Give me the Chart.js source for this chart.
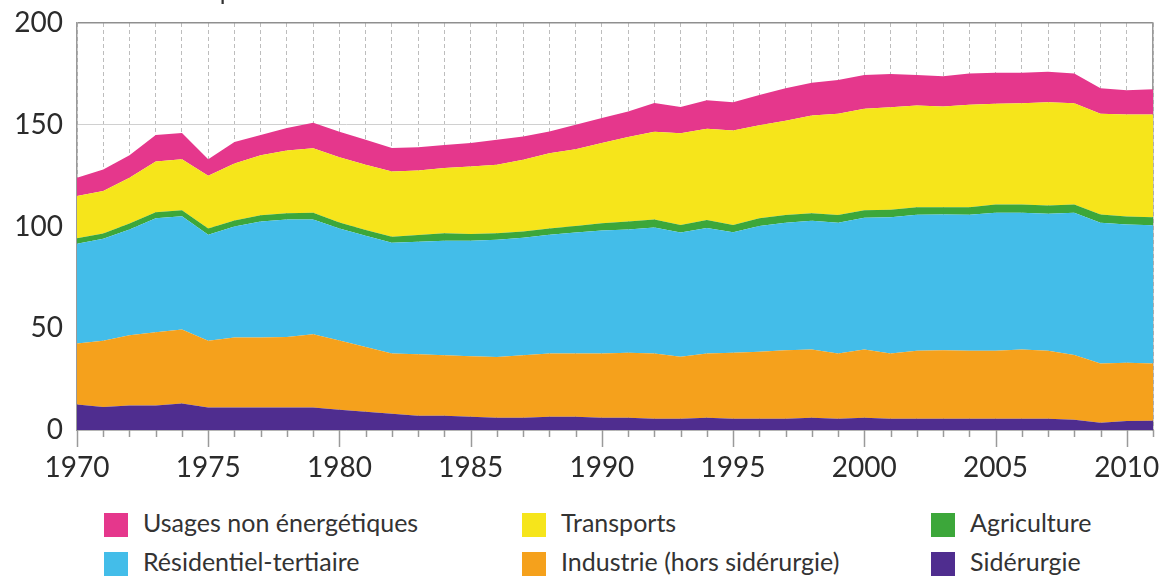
<!DOCTYPE html>
<html>
<head>
<meta charset="utf-8">
<script src="https://cdn.jsdelivr.net/npm/chart.js@4.4.1/dist/chart.umd.min.js"></script>
<style>
body { margin: 0; background: #fff; font-family: Lato, sans-serif; }
#wrap { position: relative; width: 1171px; height: 579px; overflow: hidden; }
#chart { position: absolute; left: 0; top: 0; }
#title { position: absolute; left: 40px; top: -25px; font-size: 25px; color: #333; white-space: nowrap; }
.item { position: absolute; font-size: 25px; color: #333; line-height: 30px; white-space: nowrap; }
.item span { display: inline-block; width: 24px; height: 24px; vertical-align: -5px; margin-right: 15px; }
</style>
</head>
<body>
<div id="wrap">
  <canvas id="chart" width="1171" height="500"></canvas>
  <div id="title">En millions de tep</div>
  <div id="legend"></div>
</div>
<script>
// data (Mtep)
const years = [1970,1971,1972,1973,1974,1975,1976,1977,1978,1979,1980,1981,1982,1983,1984,1985,1986,1987,1988,1989,1990,
               1991,1992,1993,1994,1995,1996,1997,1998,1999,2000,2001,2002,2003,2004,2005,2006,2007,2008,2009,2010,2011];
const siderurgie = [12.5,11.3,12,12,13,11,11,11,11,11,10,9,8,7,7,6.5,6,6,6.5,6.5,6,
                    6,5.5,5.5,6,5.5,5.5,5.5,6,5.5,6,5.5,5.5,5.5,5.5,5.5,5.5,5.5,5,3.6,4.4,4.5];
const industrie = [30,32.5,34.5,36,36.4,32.8,34.4,34.4,34.7,36,34,31.8,29.6,30.2,29.7,29.7,29.9,30.7,31.1,31.1,31.6,
                   32,32.1,30.5,31.6,32.4,32.9,33.7,33.5,32.1,33.5,32.1,33.4,33.7,33.4,33.4,34,33.4,31.8,29.1,28.6,28.2];
const residentiel = [49,50.2,52,56,55.6,52.2,54.6,57.1,57.8,56.5,55,54.7,54.4,55.3,56.3,56.8,57.6,57.8,58.4,59.4,60.4,
                     60.5,61.9,61,61.7,59.3,61.9,62.7,63.3,64.3,64.8,67,66.9,66.7,66.9,67.9,67.3,67.4,70,69.2,68,67.9];
const agriculture = [2.7,2.6,3,3,3,3,3,3,3,3.3,3,2.8,3,3.3,3.7,3.3,3.2,3,3,3.3,3.6,
                     4,4,3.7,3.9,3.5,3.7,3.7,3.7,3.7,3.7,3.6,3.7,3.6,3.7,4,4,4,4,4,3.9,4];
const transports = [20.8,20.9,22.5,25,25,26,28,29.5,30.8,31.7,32,32,32,31.7,32.1,33.2,33.6,35.3,37,37.7,39.4,
                    41.5,43.1,45.1,44.8,46.5,45.7,46.4,48.1,49.8,49.9,50.4,50,49.5,50.3,49.5,49.8,50.7,49.8,49.5,50.1,50.4];
const usagesNonEnerg = [9,10.5,11,13,13,8,10.5,10,11.1,12.5,12.5,12.3,11.6,11.5,11.3,11.5,12.3,11.4,10.7,12,12.3,
                        12.5,14.1,12.9,14,13.8,14.9,15.9,16.1,16.6,16.5,16.4,14.9,14.8,15.4,15.2,14.9,15,14.6,12.5,12,12.4];
const yTicks = [0, 50, 100, 150, 200];

const series = [
    { label: "Sidérurgie", data: siderurgie, color: "#4f2d8f" },
    { label: "Industrie (hors sidérurgie)", data: industrie, color: "#f5a11c" },
    { label: "Résidentiel-tertiaire", data: residentiel, color: "#43bde9" },
    { label: "Agriculture", data: agriculture, color: "#3ca73a" },
    { label: "Transports", data: transports, color: "#f6e51b" },
    { label: "Usages non énergétiques", data: usagesNonEnerg, color: "#e5378c" }
];

const datasets = series.map(function(s, i) {
    return {
        label: s.label,
        data: s.data.map((v, j) => ({ x: years[j], y: v })),
        backgroundColor: s.color,
        borderColor: s.color,
        borderWidth: 0,
        pointRadius: 0,
        fill: i === 0 ? 'origin' : '-1'
    };
});

// small ticks under the x axis, longer every 5 years
const yearTicks = {
    id: 'yearTicks',
    afterDraw(chart) {
        const ctx = chart.ctx;
        const xs = chart.scales.x;
        const bottom = chart.chartArea.bottom;
        ctx.save();
        ctx.strokeStyle = '#9a9a9a';
        ctx.lineWidth = 1.5;
        years.forEach(function(yr) {
            const px = Math.round(xs.getPixelForValue(yr)) + 0.5;
            const len = yr % 5 === 0 ? 17 : 7;
            ctx.beginPath();
            ctx.moveTo(px, bottom);
            ctx.lineTo(px, bottom + len);
            ctx.stroke();
        });
        ctx.restore();
    }
};

new Chart(document.getElementById('chart'), {
    type: 'line',
    data: { datasets: datasets },
    plugins: [yearTicks],
    options: {
        responsive: false,
        animation: false,
        devicePixelRatio: 1,
        layout: { padding: { top: 23, right: 18, left: 0, bottom: 0 } },
        plugins: { legend: { display: false }, tooltip: { enabled: false } },
        elements: { line: { tension: 0 } },
        scales: {
            x: {
                type: 'linear',
                min: years[0],
                max: years[years.length - 1],
                afterFit: s => { s.height = 70; s.paddingLeft = 0; s.paddingRight = 0; },
                grid: { color: '#bdbdbd', lineWidth: 1, drawTicks: false },
                border: { color: '#9a9a9a', width: 1.5, dash: [4, 3] },
                ticks: {
                    stepSize: 1,
                    autoSkip: false,
                    maxRotation: 0,
                    padding: 21,
                    color: '#2b2b2b',
                    font: { family: 'Lato', size: 28 },
                    callback: v => (v % 5 === 0 ? String(v) : '')
                }
            },
            y: {
                stacked: true,
                min: 0,
                max: 200,
                afterFit: s => { s.width = 77; s.paddingTop = 0; s.paddingBottom = 0; },
                afterBuildTicks: s => { s.ticks = yTicks.map(v => ({ value: v })); },
                grid: {
                    drawTicks: false,
                    color: c => (c.tick && c.tick.value === 200 ? '#8f8f8f' : '#d0d0d0'),
                    lineWidth: c => (c.tick && c.tick.value === 200 ? 1.5 : 1)
                },
                border: { color: '#9a9a9a', width: 1.5 },
                ticks: {
                    padding: 14,
                    color: '#2b2b2b',
                    font: { family: 'Lato', size: 28 }
                }
            },
            y2: {
                position: 'right',
                min: 0,
                max: 200,
                afterFit: s => { s.width = 0; s.paddingTop = 0; s.paddingBottom = 0; },
                grid: { drawOnChartArea: false, drawTicks: false },
                border: { color: '#9a9a9a', width: 1.5 },
                ticks: { display: false }
            }
        }
    }
});

// legend in the same 3 x 2 layout as the picture
const legendOrder = [5, 4, 3, 2, 1, 0];
const colX = [104, 522, 931];
const rowY = [507, 546];
const legend = document.getElementById('legend');
legendOrder.forEach(function(idx, k) {
    const s = series[idx];
    const item = document.createElement('div');
    item.className = 'item';
    item.style.left = colX[k % 3] + 'px';
    item.style.top = rowY[Math.floor(k / 3)] + 'px';
    const box = document.createElement('span');
    box.style.background = s.color;
    item.append(box, document.createTextNode(s.label));
    legend.append(item);
});
</script>
</body>
</html>
